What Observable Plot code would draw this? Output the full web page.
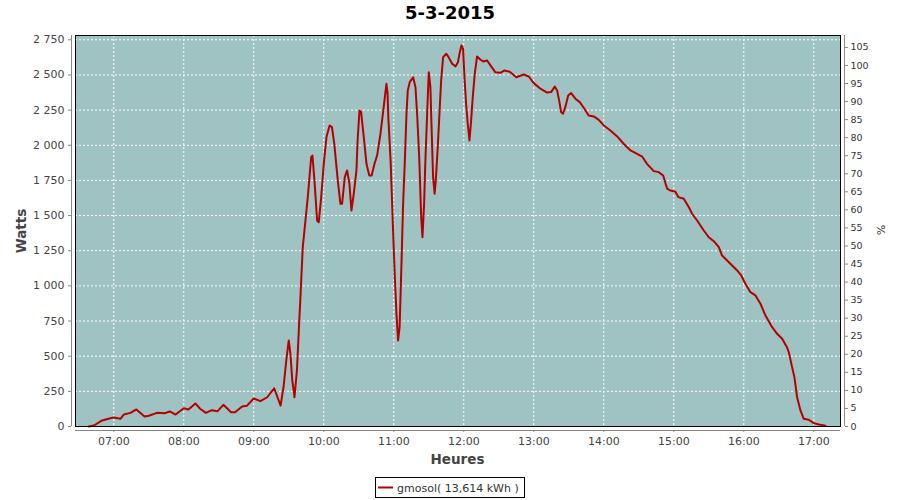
<!DOCTYPE html>
<html>
<head>
<meta charset="utf-8">
<script src="https://cdn.jsdelivr.net/npm/d3@7"></script>
<script src="https://cdn.jsdelivr.net/npm/@observablehq/plot@0.6"></script>
<style>
  body { margin: 0; background: #fff; font-family: "DejaVu Sans", sans-serif; }
</style>
</head>
<body>
<div id="chart"></div>
<script>
const title = "5-3-2015";
const seriesName = "gmosol( 13,614 kWh )";
const xLabel = "Heures";
const yLabel = "Watts";
const y2Label = "%";

const times = [
  "06:38:36","06:43:00","06:50:00","06:57:00","07:00:00","07:05:40","07:08:36","07:14:20","07:19:24","07:26:20",
  "07:30:00","07:37:00","07:44:00","07:48:00","07:53:00","08:00:00","08:04:00","08:10:00","08:14:00","08:19:00",
  "08:24:00","08:29:00","08:34:00","08:40:36","08:44:00","08:50:00","08:54:00","09:00:00","09:05:40","09:11:30",
  "09:17:30","09:23:00","09:25:40","09:28:00","09:30:00","09:31:24","09:33:00","09:34:54","09:37:00","09:38:36",
  "09:40:00","09:42:00","09:44:18","09:46:18","09:49:12","09:50:18","09:52:00","09:54:18","09:55:42","09:57:48",
  "10:00:00","10:02:18","10:05:00","10:07:00","10:09:00","10:12:00","10:14:18","10:15:42","10:18:00","10:20:00",
  "10:22:00","10:23:42","10:25:42","10:28:00","10:29:00","10:30:36","10:32:00","10:34:18","10:36:36","10:39:00",
  "10:41:00","10:43:30","10:45:42","10:48:36","10:51:00","10:53:42","10:54:40","10:55:20","10:57:24","10:59:24",
  "11:00:48","11:02:18","11:03:42","11:05:00","11:06:36","11:08:00","11:09:24","11:10:54","11:12:00","11:13:42",
  "11:16:36","11:18:36","11:20:00","11:21:48","11:23:30","11:24:36","11:26:00","11:27:00","11:28:36","11:30:00",
  "11:31:24","11:32:18","11:33:42","11:35:00","11:36:00","11:37:42","11:39:00","11:40:36","11:42:18","11:45:00",
  "11:47:00","11:50:00","11:53:00","11:55:00","11:56:36","11:58:00","11:59:24","12:00:36","12:02:00","12:03:24",
  "12:04:54","12:06:18","12:07:42","12:09:24","12:11:24","12:14:18","12:16:36","12:20:00","12:22:54","12:27:00",
  "12:31:24","12:34:54","12:39:24","12:45:00","12:51:24","12:55:42","13:00:00","13:05:42","13:11:24","13:14:54",
  "13:18:00","13:20:00","13:22:00","13:23:24","13:25:00","13:27:00","13:29:30","13:32:00","13:35:42","13:39:24",
  "13:43:24","13:47:00","13:51:24","13:55:42","14:00:00","14:05:42","14:11:30","14:17:00","14:22:54","14:28:36",
  "14:32:54","14:37:00","14:42:54","14:47:00","14:50:54","14:54:18","14:57:12","15:01:24","15:04:00","15:08:36",
  "15:12:54","15:15:42","15:20:00","15:25:42","15:30:00","15:34:18","15:38:36","15:41:24","15:45:42","15:50:00",
  "15:54:18","15:57:48","16:01:24","16:05:42","16:10:00","16:14:18","16:18:36","16:24:18","16:28:36","16:32:54",
  "16:37:00","16:38:36","16:41:24","16:43:24","16:45:42","16:48:36","16:51:24","16:55:42","17:00:00","17:04:18",
  "17:10:00"
];
const watts = [
  0,7,43,59,64,55,85,97,121,71,
  76,97,95,107,85,130,121,164,126,97,
  116,109,154,102,102,142,147,199,180,208,
  272,149,290,480,612,517,330,208,400,683,
  920,1275,1465,1631,1915,1927,1750,1465,1453,1631,
  1868,2058,2141,2129,2011,1750,1584,1584,1773,1821,
  1726,1536,1655,1821,2034,2247,2236,2058,1868,1785,
  1785,1868,1927,2082,2247,2437,2370,2200,1868,1394,
  1086,801,612,706,1157,1584,1868,2224,2390,2449,
  2484,2413,2224,1915,1489,1346,1584,1868,2224,2520,
  2413,2153,1773,1655,1750,1986,2200,2461,2627,2651,
  2627,2580,2561,2591,2662,2710,2686,2484,2295,2153,
  2034,2176,2342,2508,2632,2608,2596,2603,2568,2520,
  2515,2532,2523,2484,2503,2489,2442,2402,2375,2378,
  2418,2390,2307,2236,2224,2271,2354,2371,2331,2307,
  2260,2212,2205,2181,2141,2105,2063,2011,1963,1939,
  1920,1868,1816,1809,1785,1691,1678,1670,1631,1620,
  1560,1513,1465,1394,1346,1318,1275,1216,1181,1145,
  1110,1074,1015,955,932,873,789,706,659,624,
  564,528,422,351,208,114,55,48,24,14,
  5
];
const hourTicks = ["07:00","08:00","09:00","10:00","11:00","12:00","13:00","14:00","15:00","16:00","17:00"];
const wattTicks = [0,250,500,750,1000,1250,1500,1750,2000,2250,2500,2750];
const pctTicks = [0,5,10,15,20,25,30,35,40,45,50,55,60,65,70,75,80,85,90,95,100,105];
const xStart = "06:27:12", xEnd = "17:22:54";
const yMax = 2780.6, pctMax = 108.3;

const day = "2015-03-05T";
const parse = s => new Date(day + (s.length === 5 ? s + ":00" : s));
const data = times.map((t, i) => ({t: parse(t), w: watts[i]}));
const hourDates = hourTicks.map(parse);
const x0 = parse(xStart), x1 = parse(xEnd);
const k = yMax / pctMax;
const fmtW = d3.formatLocale({decimal: ",", thousands: " ", grouping: [3], currency: ["", ""]}).format(",d");
const fmtH = d3.timeFormat("%H:%M");
const gridStyle = {stroke: "white", strokeOpacity: 1, strokeWidth: 1, strokeDasharray: "2,2"};

const svg = Plot.plot({
  width: 900, height: 500,
  marginTop: 35, marginBottom: 74, marginLeft: 75, marginRight: 60,
  style: {fontFamily: "'DejaVu Sans', sans-serif", background: "white", overflow: "visible"},
  x: {type: "time", domain: [x0, x1]},
  y: {domain: [0, yMax]},
  marks: [
    Plot.frame({fill: "#9fc3c2", stroke: null}),
    Plot.gridX(hourDates, gridStyle),
    Plot.gridY(wattTicks, gridStyle),
    Plot.line(data, {x: "t", y: "w", stroke: "#b40000", strokeWidth: 2}),
    Plot.frame({stroke: "black", strokeWidth: 1}),
    Plot.ruleX([x0], {dx: -4, stroke: "#888"}),
    Plot.ruleX([x1], {dx: 4, stroke: "#888"}),
    Plot.ruleY([0], {dy: 4, stroke: "#888"}),
    Plot.axisX(hourDates, {anchor: "bottom", tickFormat: fmtH, dy: 4, tickSize: 2, tickPadding: 5, fontSize: 11, stroke: "#888", fill: "#444", label: null}),
    Plot.axisY(wattTicks, {anchor: "left", tickFormat: fmtW, dx: -4, tickSize: 3, tickPadding: 4, fontSize: 11, stroke: "#888", fill: "#444", label: null}),
    Plot.axisY(pctTicks.map(p => p * k), {anchor: "right", tickFormat: d => String(Math.round(d / k)), dx: 4, tickSize: 3, tickPadding: 3, fontSize: 9.5, stroke: "#888", fill: "#333", label: null})
  ]
});

const s = d3.select(svg);
s.append("text").attr("x", 450).attr("y", 18.5).attr("text-anchor", "middle")
  .attr("font-size", 18).attr("font-weight", "bold").attr("fill", "#000").text(title);
s.append("text").attr("x", 457.5).attr("y", 464).attr("text-anchor", "middle")
  .attr("font-size", 13.5).attr("font-weight", 600).attr("fill", "#444").text(xLabel);
s.append("text").attr("transform", "translate(26,231) rotate(-90)").attr("text-anchor", "middle")
  .attr("font-size", 13.5).attr("font-weight", 600).attr("fill", "#444").text(yLabel);
s.append("text").attr("transform", "translate(877,230) rotate(90)").attr("text-anchor", "middle")
  .attr("font-size", 11).attr("fill", "#333").text(y2Label);
const lg = s.append("g");
lg.append("rect").attr("x", 375.5).attr("y", 477.5).attr("width", 149).attr("height", 20)
  .attr("fill", "white").attr("stroke", "black");
lg.append("line").attr("x1", 378).attr("x2", 393).attr("y1", 487.5).attr("y2", 487.5)
  .attr("stroke", "#b40000").attr("stroke-width", 2);
lg.append("text").attr("x", 397).attr("y", 491.5).attr("text-anchor", "start")
  .attr("font-size", 11).attr("fill", "#333").text(seriesName);

document.getElementById("chart").appendChild(svg);
</script>
</body>
</html>
